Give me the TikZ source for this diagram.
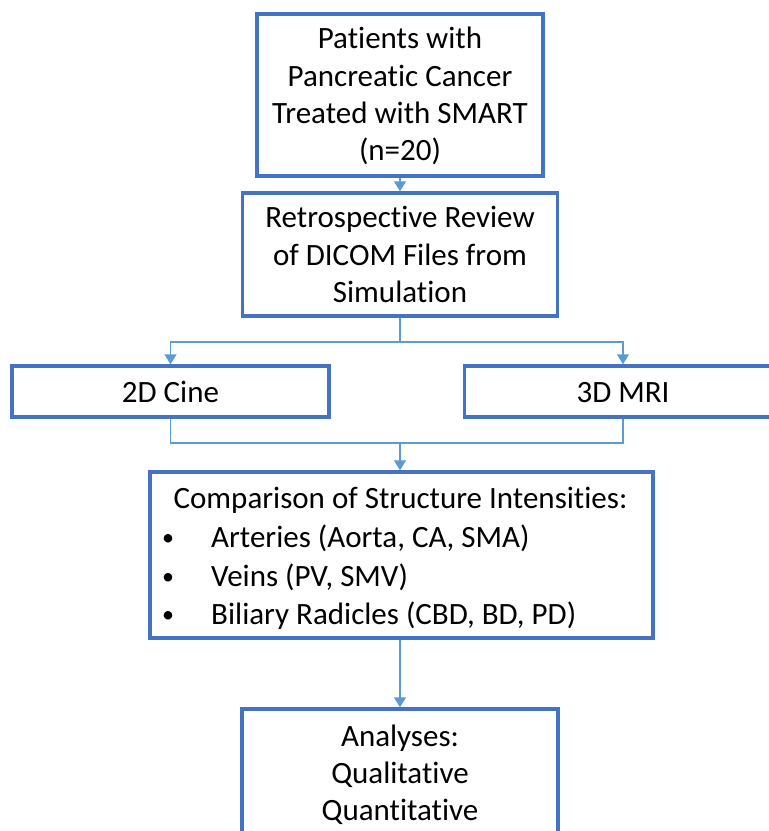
\documentclass[tikz,border=0pt]{standalone}
\usepackage{fontspec}
\setmainfont{Carlito}[Ligatures={NoCommon}]
\usetikzlibrary{arrows.meta}
\definecolor{boxblue}{HTML}{4472C4}
\definecolor{lineblue}{HTML}{5B9BD5}
\tikzset{
  boxnode/.style={draw=boxblue, line width=3.5pt, rectangle, inner sep=0pt, fill=white},
  txt/.style={font=\fontsize{31}{37}\selectfont, anchor=base, inner sep=0pt},
  bul/.style={font=\fontsize{24}{28}\selectfont, anchor=base, inner sep=0pt},
  conn/.style={draw=lineblue, line width=1.5pt},
  arr/.style={conn, -{Triangle[width=12pt,length=10pt]}}
}
\begin{document}
\begin{tikzpicture}[x=1pt,y=-1pt]
\useasboundingbox (0,0) rectangle (769,831);
\clip (0,0) rectangle (769,831);
\fill[white] (0,0) rectangle (769,831);
% boxes
\node[boxnode, minimum width=286pt, minimum height=162pt] (b1) at (400,95) {};
\node[boxnode, minimum width=315pt, minimum height=123pt] (b2) at (400,254.5) {};
\node[boxnode, minimum width=317pt, minimum height=51pt] (c2d) at (170.5,391.5) {};
\node[boxnode, minimum width=317pt, minimum height=51pt] (m3d) at (623,391.5) {};
\node[boxnode, minimum width=503pt, minimum height=166pt] (cmp) at (401.5,555) {};
\node[boxnode, minimum width=316pt, minimum height=142pt] (fin) at (400,780) {};
% connectors
\coordinate (split) at (400,342);
\coordinate (merge) at (400,443);
\draw[arr] (b1.south) -- (b2.north);
\draw[conn] (b2.south) -- (split);
\draw[arr] (split) -| (c2d.north);
\draw[arr] (split) -| (m3d.north);
\draw[conn] (c2d.south) |- (merge);
\draw[conn] (m3d.south) |- (merge);
\draw[arr] (merge) -- (merge |- cmp.north);
\draw[arr] (merge |- cmp.south) -- (merge |- fin.north);
% texts
\node[txt] (t1a) at (400,48) {Patients with};
\node[txt] (t1b) at (400,86) {Pancreatic Cancer};
\node[txt] (t1c) at (400,123) {Treated with SMART};
\node[txt] (t1d) at (400,160) {(n=20)};
\node[txt] (t2a) at (400,227) {Retrospective Review};
\node[txt] (t2b) at (400,265) {of DICOM Files from};
\node[txt] (t2c) at (400,302) {Simulation};
\node[txt] (t3) at (170.5,402) {2D Cine};
\node[txt] (t4) at (623,402) {3D MRI};
\node[txt] (t5) at (400.5,508) {Comparison of Structure Intensities:};
\node[bul] (bu1) at (168,545) {•};
\node[bul] (bu2) at (168,584) {•};
\node[bul] (bu3) at (168,622) {•};
\node[txt, anchor=base west] (t5a) at (211,547) {Arteries (Aorta, CA, SMA)};
\node[txt, anchor=base west] (t5b) at (211,586) {Veins (PV, SMV)};
\node[txt, anchor=base west] (t5c) at (211,624) {Biliary Radicles (CBD, BD, PD)};
\node[txt] (t6a) at (400,746) {Analyses:};
\node[txt] (t6b) at (400,783) {Qualitative};
\node[txt] (t6c) at (400,820) {Quantitative};
\end{tikzpicture}
\end{document}
